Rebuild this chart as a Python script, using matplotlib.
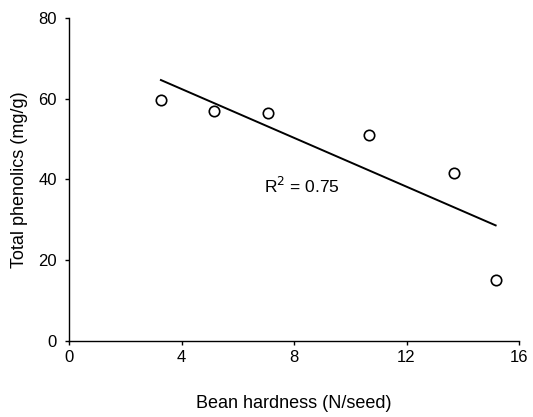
import matplotlib
matplotlib.use("Agg")
import matplotlib.pyplot as plt
import numpy as np

plt.rcParams['font.family'] = ['Liberation Sans', 'DejaVu Sans']

hardness = [3.26, 5.16, 7.06, 10.66, 13.69, 15.17]
phenolics = [59.6, 57.0, 56.4, 50.9, 41.5, 15.2]
x_ticks = [0, 4, 8, 12, 16]
y_ticks = [0, 20, 40, 60, 80]

fig = plt.figure(figsize=(5.33, 4.17), dpi=100)
ax = fig.add_axes([0.130, 0.1815, 0.8437, 0.7761])

ax.plot(hardness, phenolics, linestyle='none', marker='o', markersize=7.5,
        markerfacecolor='white', markeredgecolor='black', markeredgewidth=1.2, zorder=3)

coef = np.polyfit(hardness, phenolics, 1)
xs = np.array([min(hardness), max(hardness)])
ax.plot(xs, np.polyval(coef, xs), color='black', linewidth=1.4)

ax.text(6.93, 38.4, 'R$^2$ = 0.75', fontsize=12.5, va='center', ha='left')

ax.set_xlim(0, 16)
ax.set_ylim(0, 80)
ax.set_xticks(x_ticks)
ax.set_yticks(y_ticks)
ax.tick_params(direction='out', length=3, width=1, labelsize=12)
ax.tick_params(axis='x', pad=3)
ax.tick_params(axis='y', pad=6)
for s in ['top', 'right']:
    ax.spines[s].set_visible(False)
for s in ['left', 'bottom']:
    ax.spines[s].set_linewidth(1)

ax.set_xlabel('Bean hardness (N/seed)', fontsize=13, labelpad=22)
ax.set_ylabel('Total phenolics (mg/g)', fontsize=13, labelpad=7)

fig.savefig('out.png', dpi=100)
